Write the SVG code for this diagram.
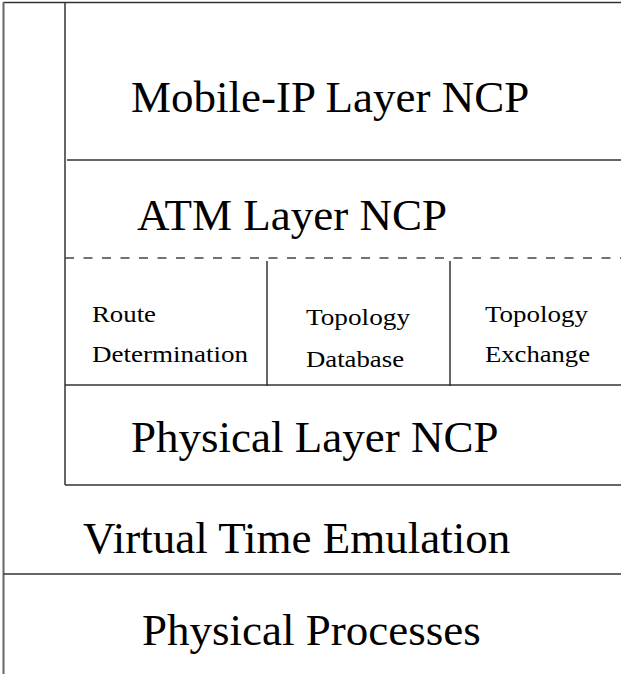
<svg xmlns="http://www.w3.org/2000/svg" width="621" height="674" viewBox="0 0 621 674">
<style>
.ln{stroke:#333;stroke-width:1.5;fill:none}
.dash{stroke:#444;stroke-width:1.3;stroke-dasharray:9 9.5;fill:none}
text{font-family:'Liberation Serif',Tinos,'Times New Roman',Times,serif;fill:#000}
.big{font-size:45px}
.sm{font-size:24px}
</style>
<rect width="621" height="674" fill="#fff"/>
<g id="connectors">
<line class="ln" x1="3.5" y1="2.5" x2="621" y2="2.5"/>
<line x1="3.5" y1="2" x2="3.5" y2="674" stroke="#666" stroke-width="2"/>
<line class="ln" x1="65" y1="2.5" x2="65" y2="485"/>
<line class="ln" x1="67" y1="160" x2="621" y2="160"/>
<line class="dash" x1="65" y1="258" x2="621" y2="258"/>
<line class="ln" x1="267" y1="261" x2="267" y2="386" stroke-width="1.2"/>
<line class="ln" x1="450" y1="261" x2="450" y2="386" stroke-width="1.2"/>
<line class="ln" x1="65" y1="385" x2="621" y2="385"/>
<line class="ln" x1="65" y1="485" x2="621" y2="485"/>
<line class="ln" x1="3.5" y1="574" x2="621" y2="574"/>
</g>
<g id="mobile-ip"><text class="big" x="131" y="112">Mobile-IP Layer NCP</text></g>
<g id="atm"><text class="big" x="137" y="230">ATM Layer NCP</text></g>
<g id="route"><text class="sm" x="92" y="322" textLength="64" lengthAdjust="spacingAndGlyphs">Route</text><text class="sm" x="92" y="362" textLength="156" lengthAdjust="spacingAndGlyphs">Determination</text></g>
<g id="topo-db"><text class="sm" x="306" y="325" textLength="104" lengthAdjust="spacingAndGlyphs">Topology</text><text class="sm" x="306" y="367" textLength="98" lengthAdjust="spacingAndGlyphs">Database</text></g>
<g id="topo-ex"><text class="sm" x="485" y="322" textLength="103" lengthAdjust="spacingAndGlyphs">Topology</text><text class="sm" x="485" y="362" textLength="105" lengthAdjust="spacingAndGlyphs">Exchange</text></g>
<g id="physical-layer"><text class="big" x="131" y="452">Physical Layer NCP</text></g>
<g id="virtual-time"><text class="big" x="83" y="553">Virtual Time Emulation</text></g>
<g id="physical-processes"><text class="big" x="142" y="645">Physical Processes</text></g>
</svg>
